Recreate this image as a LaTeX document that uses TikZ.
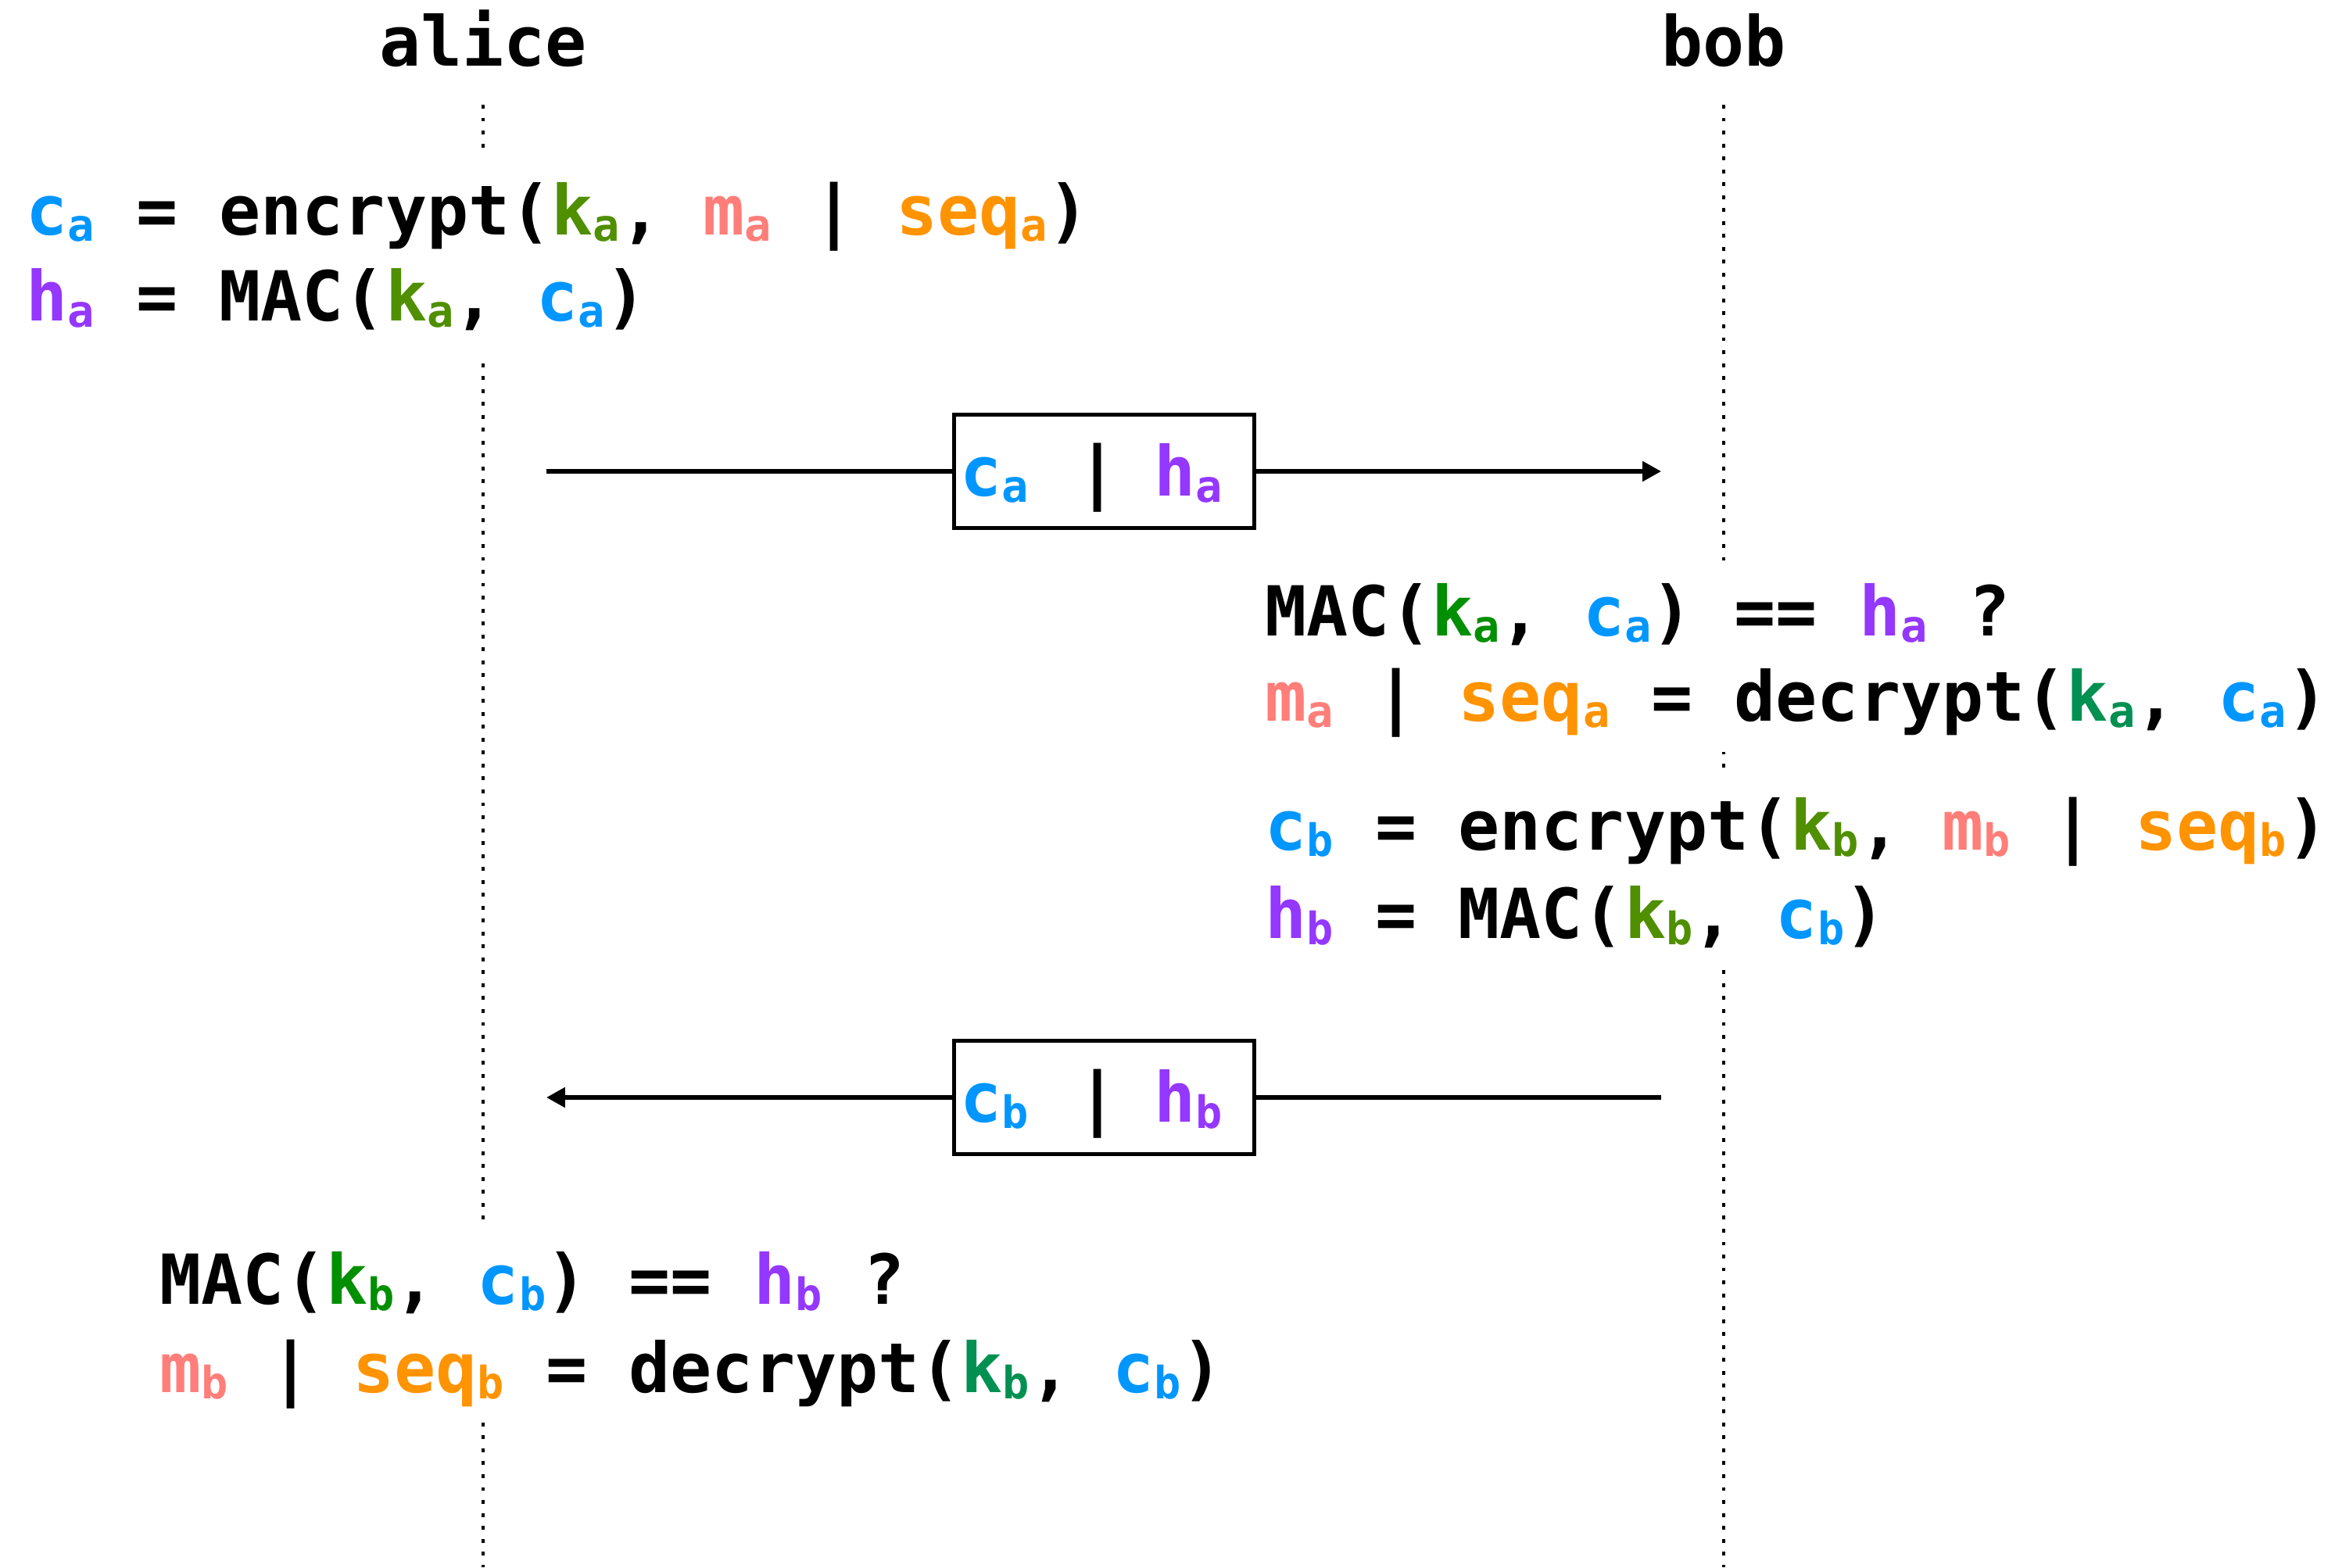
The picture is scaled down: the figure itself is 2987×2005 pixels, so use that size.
\documentclass[tikz,border=0pt]{standalone}
\usepackage{fontspec}
\usetikzlibrary{arrows.meta}
\newfontfamily\dmono{DejaVu Sans Mono}
\definecolor{aqua}{HTML}{0096FF}
\definecolor{grape}{HTML}{9437FF}
\definecolor{fern}{HTML}{4F8F00}
\definecolor{clover}{HTML}{008F00}
\definecolor{seafoam}{HTML}{009051}
\definecolor{salmon}{HTML}{FF7E79}
\definecolor{tangerine}{HTML}{FF9300}
\newcommand\mainsz{\fontsize{25.1pt}{30pt}\selectfont}
\newcommand\subsc[1]{\raisebox{-0.08cm}{\fontsize{16.2pt}{18pt}\selectfont #1}}
\newcommand\vC[1]{\textcolor{aqua}{c\subsc{#1}}}
\newcommand\vH[1]{\textcolor{grape}{h\subsc{#1}}}
\newcommand\vK[2]{\textcolor{#1}{k\subsc{#2}}}
\newcommand\vM[1]{\textcolor{salmon}{m\subsc{#1}}}
\newcommand\vS[1]{\textcolor{tangerine}{seq\subsc{#1}}}
\newcommand\boxbar{\hspace{0.32cm}|\hspace{0.17cm}}
\begin{document}
\begin{tikzpicture}[x=0.01cm,y=-0.01cm,
  code/.style={font=\dmono\bfseries\mainsz, inner sep=0pt, anchor=base west},
  title/.style={font=\dmono\bfseries\mainsz, inner sep=0pt, anchor=base},
  life/.style={line width=1.1pt, dash pattern=on 1.4pt off 3.3pt},
  msgbox/.style={draw, line width=1.45pt, fill=white, text width=3.68cm, align=left,
    inner xsep=0.08cm, inner ysep=0pt, text height=0.70cm, text depth=0.08cm,
    minimum height=1.45cm, font=\dmono\bfseries\mainsz},
  msgline/.style={line width=1.5pt},
  msgarrow/.style={msgline, -{Triangle[length=6.8pt,width=7.1pt]}}]
\useasboundingbox (0,0) rectangle (2987,2005);
% lifelines
\node[title] (alice) at (618,84) {alice};
\node[title] (bob) at (2205,84) {bob};
\coordinate (aTop) at (618,134); \coordinate (aBot) at (618,2005);
\coordinate (bTop) at (2205,134); \coordinate (bBot) at (2205,2005);
\draw[life] (aTop) -- (aBot);
\draw[life] (bTop) -- (bBot);
% text backgrounds
\fill[white] (25,197) rectangle (1400,453);
\fill[white] (1610,717) rectangle (2987,962);
\fill[white] (1610,985) rectangle (2987,1236);
\fill[white] (195,1560) rectangle (1580,1815);
% text
\node[code] (l1) at (33,300) {\vC{a} = encrypt(\vK{fern}{a}, \vM{a} | \vS{a})};
\node[code] (l2) at (33,410) {\vH{a} = MAC(\vK{fern}{a}, \vC{a})};
\node[code] (l3) at (1618,813) {MAC(\vK{clover}{a}, \vC{a}) == \vH{a} ?};
\node[code] (l4) at (1618,922) {\vM{a} | \vS{a} = decrypt(\vK{seafoam}{a}, \vC{a})};
\node[code] (l5) at (1618,1087) {\vC{b} = encrypt(\vK{fern}{b}, \vM{b} | \vS{b})};
\node[code] (l6) at (1618,1200) {\vH{b} = MAC(\vK{fern}{b}, \vC{b})};
\node[code] (l7) at (204,1668) {MAC(\vK{clover}{b}, \vC{b}) == \vH{b} ?};
\node[code] (l8) at (204,1781) {\vM{b} | \vS{b} = decrypt(\vK{seafoam}{b}, \vC{b})};
% message 1
\coordinate (m1s) at (699,603);
\coordinate (m1e) at (2125,603);
\node[msgbox] (m1) at (1412.5,603) {\vC{a} \boxbar{} \vH{a}};
\draw[msgline] (m1s) -- (m1.west);
\draw[msgarrow] (m1.east) -- (m1e);
% message 2
\coordinate (m2s) at (2125,1404);
\coordinate (m2e) at (699,1404);
\node[msgbox] (m2) at (1412.5,1404) {\vC{b} \boxbar{} \vH{b}};
\draw[msgline] (m2s) -- (m2.east);
\draw[msgarrow] (m2.west) -- (m2e);
\end{tikzpicture}
\end{document}
